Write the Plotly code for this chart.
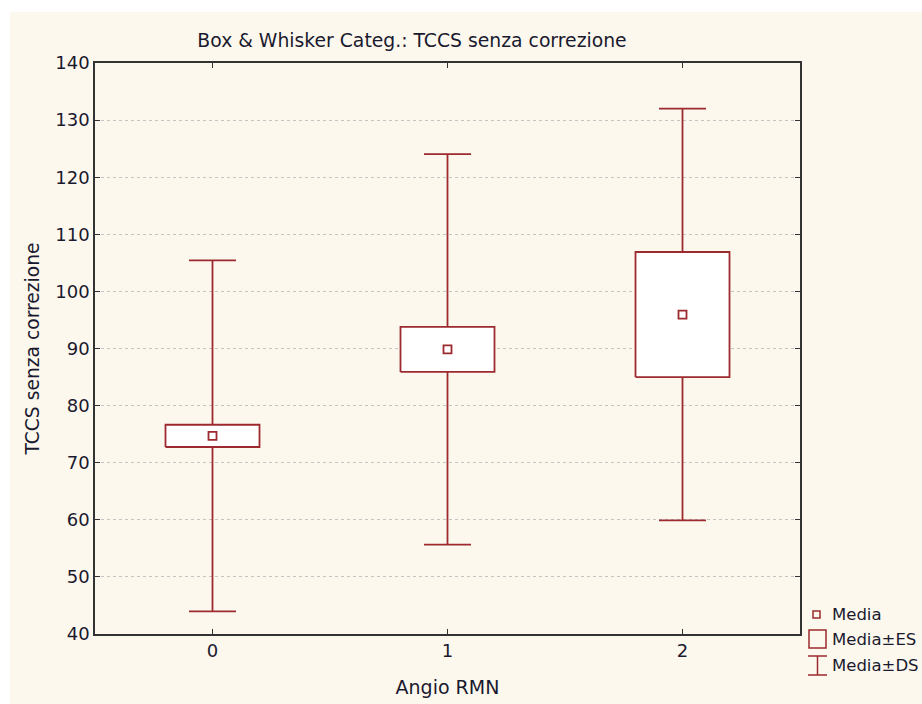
import plotly.graph_objects as go

# Summary statistics of TCCS (senza correzione) per Angio RMN category
categories = [0, 1, 2]
means = [74.7, 89.85, 95.95]
se = [1.95, 3.95, 10.95]
sd = [30.75, 34.2, 36.05]

y_ticks = [40, 50, 60, 70, 80, 90, 100, 110, 120, 130, 140]

RED = "#9c2a2e"
BG = "#fdf8ee"
INK = "#1a1a2e"
FONT = "DejaVu Sans"
BOX_HALF = 0.2
CAP_HALF = 0.1

fig = go.Figure()

for c, m, e, d in zip(categories, means, se, sd):
    # whiskers (mean ± SD) with caps, drawn outside the SE box
    fig.add_trace(go.Scatter(
        x=[c - CAP_HALF, c + CAP_HALF, None, c, c, None,
           c, c, None, c - CAP_HALF, c + CAP_HALF],
        y=[m + d, m + d, None, m + d, m + e, None,
           m - e, m - d, None, m - d, m - d],
        mode="lines", line=dict(color=RED, width=1.8),
        hoverinfo="skip", showlegend=False))
    # box (mean ± SE)
    fig.add_trace(go.Scatter(
        x=[c - BOX_HALF, c + BOX_HALF, c + BOX_HALF, c - BOX_HALF, c - BOX_HALF],
        y=[m - e, m - e, m + e, m + e, m - e],
        mode="lines", line=dict(color=RED, width=1.8),
        fill="toself", fillcolor="white",
        hoverinfo="skip", showlegend=False))

# mean markers
fig.add_trace(go.Scatter(
    x=categories, y=means, mode="markers",
    marker=dict(symbol="square-open", size=8, color=RED, line=dict(width=1.8)),
    showlegend=False))

shapes = [
    # cream page background with a thin white edge at top/left
    dict(type="rect", xref="paper", yref="paper",
         x0=-85 / 705, x1=1 + 122 / 705, y0=-70 / 571, y1=1 + 51 / 571,
         fillcolor=BG, line=dict(width=0), layer="below"),
]

# hand-built legend (symbols)
def px_x(p):
    return (p - 95) / 705

def px_y(p):
    return (634 - p) / 571

shapes += [
    dict(type="rect", xref="paper", yref="paper",
         x0=px_x(813), x1=px_x(820), y0=px_y(618), y1=px_y(611),
         line=dict(color=RED, width=1.5)),
    dict(type="rect", xref="paper", yref="paper",
         x0=px_x(809), x1=px_x(826), y0=px_y(648), y1=px_y(630),
         line=dict(color=RED, width=1.5)),
    dict(type="line", xref="paper", yref="paper",
         x0=px_x(808), x1=px_x(827), y0=px_y(656), y1=px_y(656),
         line=dict(color=RED, width=1.5)),
    dict(type="line", xref="paper", yref="paper",
         x0=px_x(817.5), x1=px_x(817.5), y0=px_y(656), y1=px_y(675),
         line=dict(color=RED, width=1.5)),
    dict(type="line", xref="paper", yref="paper",
         x0=px_x(808), x1=px_x(827), y0=px_y(675), y1=px_y(675),
         line=dict(color=RED, width=1.5)),
]

annotations = []
for label, ypix in [("Media", 614), ("Media±ES", 639), ("Media±DS", 665)]:
    annotations.append(dict(
        text=label, xref="paper", yref="paper",
        x=px_x(830), y=px_y(ypix), xanchor="left", yanchor="middle",
        showarrow=False, font=dict(family=FONT, size=16.5, color=INK)))

fig.update_layout(
    width=922, height=704,
    margin=dict(l=95, r=122, t=63, b=70),
    paper_bgcolor="white", plot_bgcolor="white",
    font=dict(family=FONT, size=18, color=INK),
    title=dict(text="Box & Whisker Categ.: TCCS senza correzione",
               x=412 / 922, xanchor="center", y=1 - 40 / 704, yanchor="middle",
               font=dict(family=FONT, size=18.8, color=INK)),
    shapes=shapes, annotations=annotations,
    showlegend=False,
)

fig.update_xaxes(
    range=[-0.5, 2.5], tickvals=categories, ticktext=[str(c) for c in categories],
    ticks="inside", ticklen=5, tickcolor="#333333",
    showline=True, linecolor="#333333", linewidth=1.5, mirror="ticks",
    showgrid=False, zeroline=False, automargin=False,
    tickfont=dict(family=FONT, size=18),
    title=dict(text="Angio RMN", font=dict(family=FONT, size=19), standoff=20),
)
fig.update_yaxes(
    range=[40, 140], tickvals=y_ticks,
    ticks="inside", ticklen=5, tickcolor="#333333",
    showline=True, linecolor="#333333", linewidth=1.5, mirror="ticks",
    showgrid=True, gridcolor="#c4c4c4", griddash="dot", gridwidth=1,
    zeroline=False, automargin=False,
    tickfont=dict(family=FONT, size=18),
    title=dict(text="TCCS senza correzione", font=dict(family=FONT, size=18.7), standoff=11),
)

fig.write_html("out.html")
